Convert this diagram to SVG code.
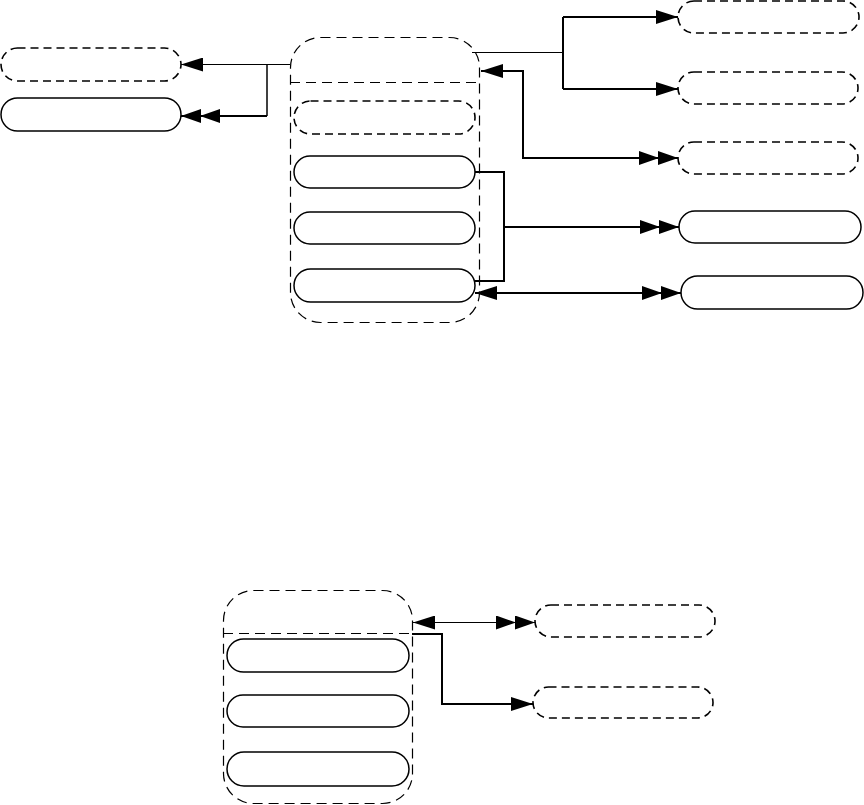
<svg xmlns="http://www.w3.org/2000/svg" width="864" height="805" viewBox="0 0 864 805">
<style>
.bg{fill:#fff}
.cont{fill:none;stroke:#000;stroke-width:1.2;stroke-dasharray:10 6}
.sep{fill:none;stroke:#000;stroke-width:1;stroke-dasharray:10 6}
.nd{fill:#fff;stroke:#000;stroke-width:1.6;stroke-dasharray:8 5}
.ns{fill:#fff;stroke:#000;stroke-width:1.5}
.c1{fill:none;stroke:#000;stroke-width:1}
.c2{fill:none;stroke:#000;stroke-width:2}
</style>
<defs>
<marker id="a1" viewBox="0 0 22 14" refX="22" refY="7" markerWidth="22" markerHeight="14" markerUnits="userSpaceOnUse" orient="auto-start-reverse"><path d="M0,0 L22,7 L0,14 Z" fill="#000"/></marker>
<marker id="a2" viewBox="0 0 39 14" refX="39" refY="7" markerWidth="39" markerHeight="14" markerUnits="userSpaceOnUse" orient="auto-start-reverse"><path d="M0,0 L20,7 L0,14 Z M19,0 L39,7 L19,14 Z" fill="#000"/></marker>
</defs>
<rect class="bg" x="0" y="0" width="864" height="805"/>

<g id="container1">
<rect class="cont" x="290.5" y="37.5" width="189" height="285" rx="30" ry="30"/>
<line class="sep" x1="290" y1="82.5" x2="479" y2="82.5"/>
</g>
<g id="c1-n1"><rect class="nd" x="294" y="101" width="181" height="33" rx="16.5"/></g>
<g id="c1-n2"><rect class="ns" x="294" y="156" width="181" height="32" rx="16"/></g>
<g id="c1-n3"><rect class="ns" x="294" y="212" width="181" height="32" rx="16"/></g>
<g id="c1-n4"><rect class="ns" x="294" y="269" width="181" height="33" rx="16.5"/></g>

<g id="left1"><rect class="nd" x="1" y="48" width="180" height="33" rx="16.5"/></g>
<g id="left2"><rect class="ns" x="1" y="98" width="180" height="33" rx="16.5"/></g>

<g id="right1"><rect class="nd" x="678" y="1" width="181" height="32" rx="16"/></g>
<g id="right2"><rect class="nd" x="678" y="72" width="180" height="32" rx="16"/></g>
<g id="right3"><rect class="nd" x="678" y="142" width="180" height="32" rx="16"/></g>
<g id="right4"><rect class="ns" x="679" y="211" width="182" height="32" rx="16"/></g>
<g id="right5"><rect class="ns" x="681" y="276" width="182" height="33" rx="16.5"/></g>

<g id="container2">
<rect class="cont" x="223.5" y="590.5" width="189" height="213" rx="30" ry="30"/>
<line class="sep" x1="223" y1="633.5" x2="412" y2="633.5"/>
</g>
<g id="c2-n1"><rect class="ns" x="227" y="639" width="182" height="33" rx="16.5"/></g>
<g id="c2-n2"><rect class="ns" x="227" y="695" width="182" height="32" rx="16"/></g>
<g id="c2-n3"><rect class="ns" x="227" y="752" width="182" height="34" rx="17"/></g>

<g id="bottom-right1"><rect class="nd" x="535" y="605" width="180" height="32" rx="16"/></g>
<g id="bottom-right2"><rect class="nd" x="533" y="687" width="180" height="31" rx="15.5"/></g>

<g id="connectors">
<path class="c1" d="M290,64.5 H181" marker-end="url(#a1)"/>
<path class="c1" d="M267,64 V116" style="stroke-width:1.5"/>
<path class="c2" d="M267,116 H181" marker-end="url(#a2)"/>

<path class="c1" d="M472,52.5 H563"/>
<path class="c2" d="M563,17 V89"/>
<path class="c2" d="M563,17 H678" marker-end="url(#a1)"/>
<path class="c2" d="M563,89 H678" marker-end="url(#a1)"/>

<path class="c2" d="M481,71 H523 V158 H678" marker-start="url(#a1)" marker-end="url(#a2)"/>

<path class="c2" d="M475,172 H504 V281 H475"/>
<path class="c2" d="M504,227 H679" marker-end="url(#a2)"/>

<path class="c2" d="M475,293 H681" marker-start="url(#a1)" marker-end="url(#a2)"/>

<path class="c1" d="M413,622.5 H535" marker-start="url(#a1)" marker-end="url(#a2)"/>
<path class="c2" d="M412,634 H442 V704 H533" marker-end="url(#a1)"/>
</g>
</svg>
